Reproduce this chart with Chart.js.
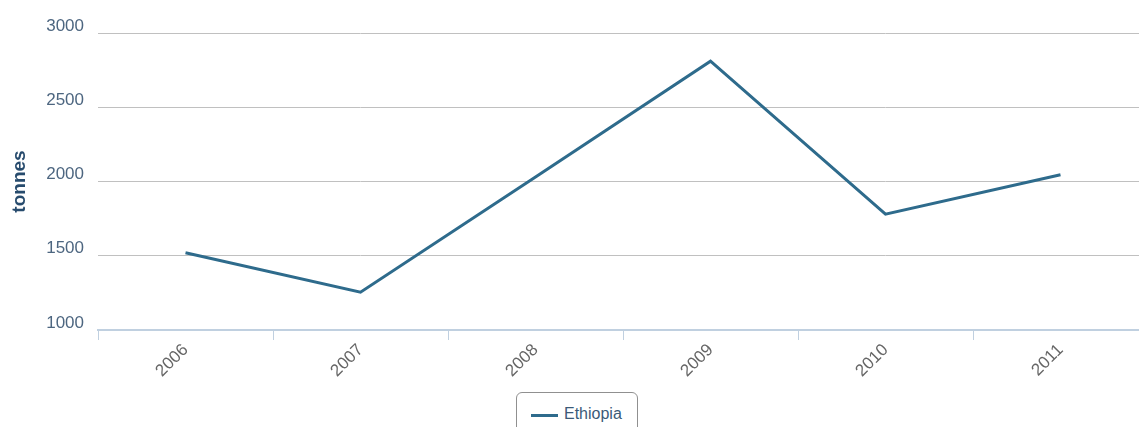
<!DOCTYPE html>
<html>
<head>
<meta charset="utf-8">
<script src="https://cdn.jsdelivr.net/npm/chart.js@4/dist/chart.umd.min.js"></script>
<style>
  html, body { margin: 0; padding: 0; background: #fff; overflow: hidden; }
  #wrap { position: relative; width: 1148px; height: 427px; }
  #legend {
    position: absolute; left: 516px; top: 392px; width: 120px; height: 44px;
    border: 1px solid #909090; border-radius: 6px; background: #fff;
    font-family: "Liberation Sans", Arial, sans-serif; font-size: 16px; color: #3b5a78;
  }
  #legend .swatch { position: absolute; left: 14px; top: 21px; width: 27px; height: 3px; background: #2e6b8c; }
  #legend .label { position: absolute; left: 47px; top: 12px; }
</style>
</head>
<body>
<div id="wrap">
  <canvas id="chart" width="1148" height="427"></canvas>
  <div id="legend"><span class="swatch"></span><span class="label">Ethiopia</span></div>
</div>
<script>
// chart values
const years = ["2006", "2007", "2008", "2009", "2010", "2011"];
const ethiopia = [1520, 1255, 2030, 2810, 1780, 2045];
const seriesName = "Ethiopia";
const yTicks = [1000, 1500, 2000, 2500, 3000];

const data = {
  labels: years,
  datasets: [
    {
      label: seriesName,
      data: ethiopia,
      fill: false,
      borderColor: "#2e6b8c",
      backgroundColor: "#2e6b8c",
      borderWidth: 3,
      pointRadius: 0,
      tension: 0,
    },
  ],
};

var ctx = document.getElementById("chart");
var myChart = new Chart(ctx, {
  type: "line",
  data: data,
  options: {
    responsive: false,
    animation: false,
    layout: { padding: { top: 33, right: 0, bottom: 0, left: 0 } },
    plugins: {
      legend: { display: false },
      tooltip: { enabled: false },
    },
    scales: {
      x: {
        offset: true,
        grid: {
          offset: true,
          drawOnChartArea: false,
          color: "#C0D0E0",
          tickLength: 10,
        },
        border: { color: "#C0D0E0", width: 2 },
        ticks: {
          minRotation: 45,
          maxRotation: 45,
          padding: 0,
          color: "#666666",
          font: { family: "Liberation Sans", size: 17 },
        },
        afterFit: function (scale) {
          scale.height = 97;
        },
      },
      y: {
        min: yTicks[0],
        max: yTicks[yTicks.length - 1],
        afterBuildTicks: function (scale) {
          scale.ticks = yTicks.map(function (v) { return { value: v }; });
        },
        grid: { color: "#C0C0C0", drawTicks: false, lineWidth: 1 },
        border: { display: false },
        ticks: {
          padding: 14,
          labelOffset: -7,
          color: "#4d6680",
          font: { family: "Liberation Sans", size: 17 },
          callback: function (v) { return String(v); },
        },
        title: {
          display: true,
          text: "tonnes",
          color: "#274b6d",
          padding: { top: 8, bottom: 0 },
          font: { family: "Liberation Sans", size: 19, weight: "bold" },
        },
        afterFit: function (scale) {
          scale.width = 98;
        },
      },
    },
  },
});
</script>
</body>
</html>
